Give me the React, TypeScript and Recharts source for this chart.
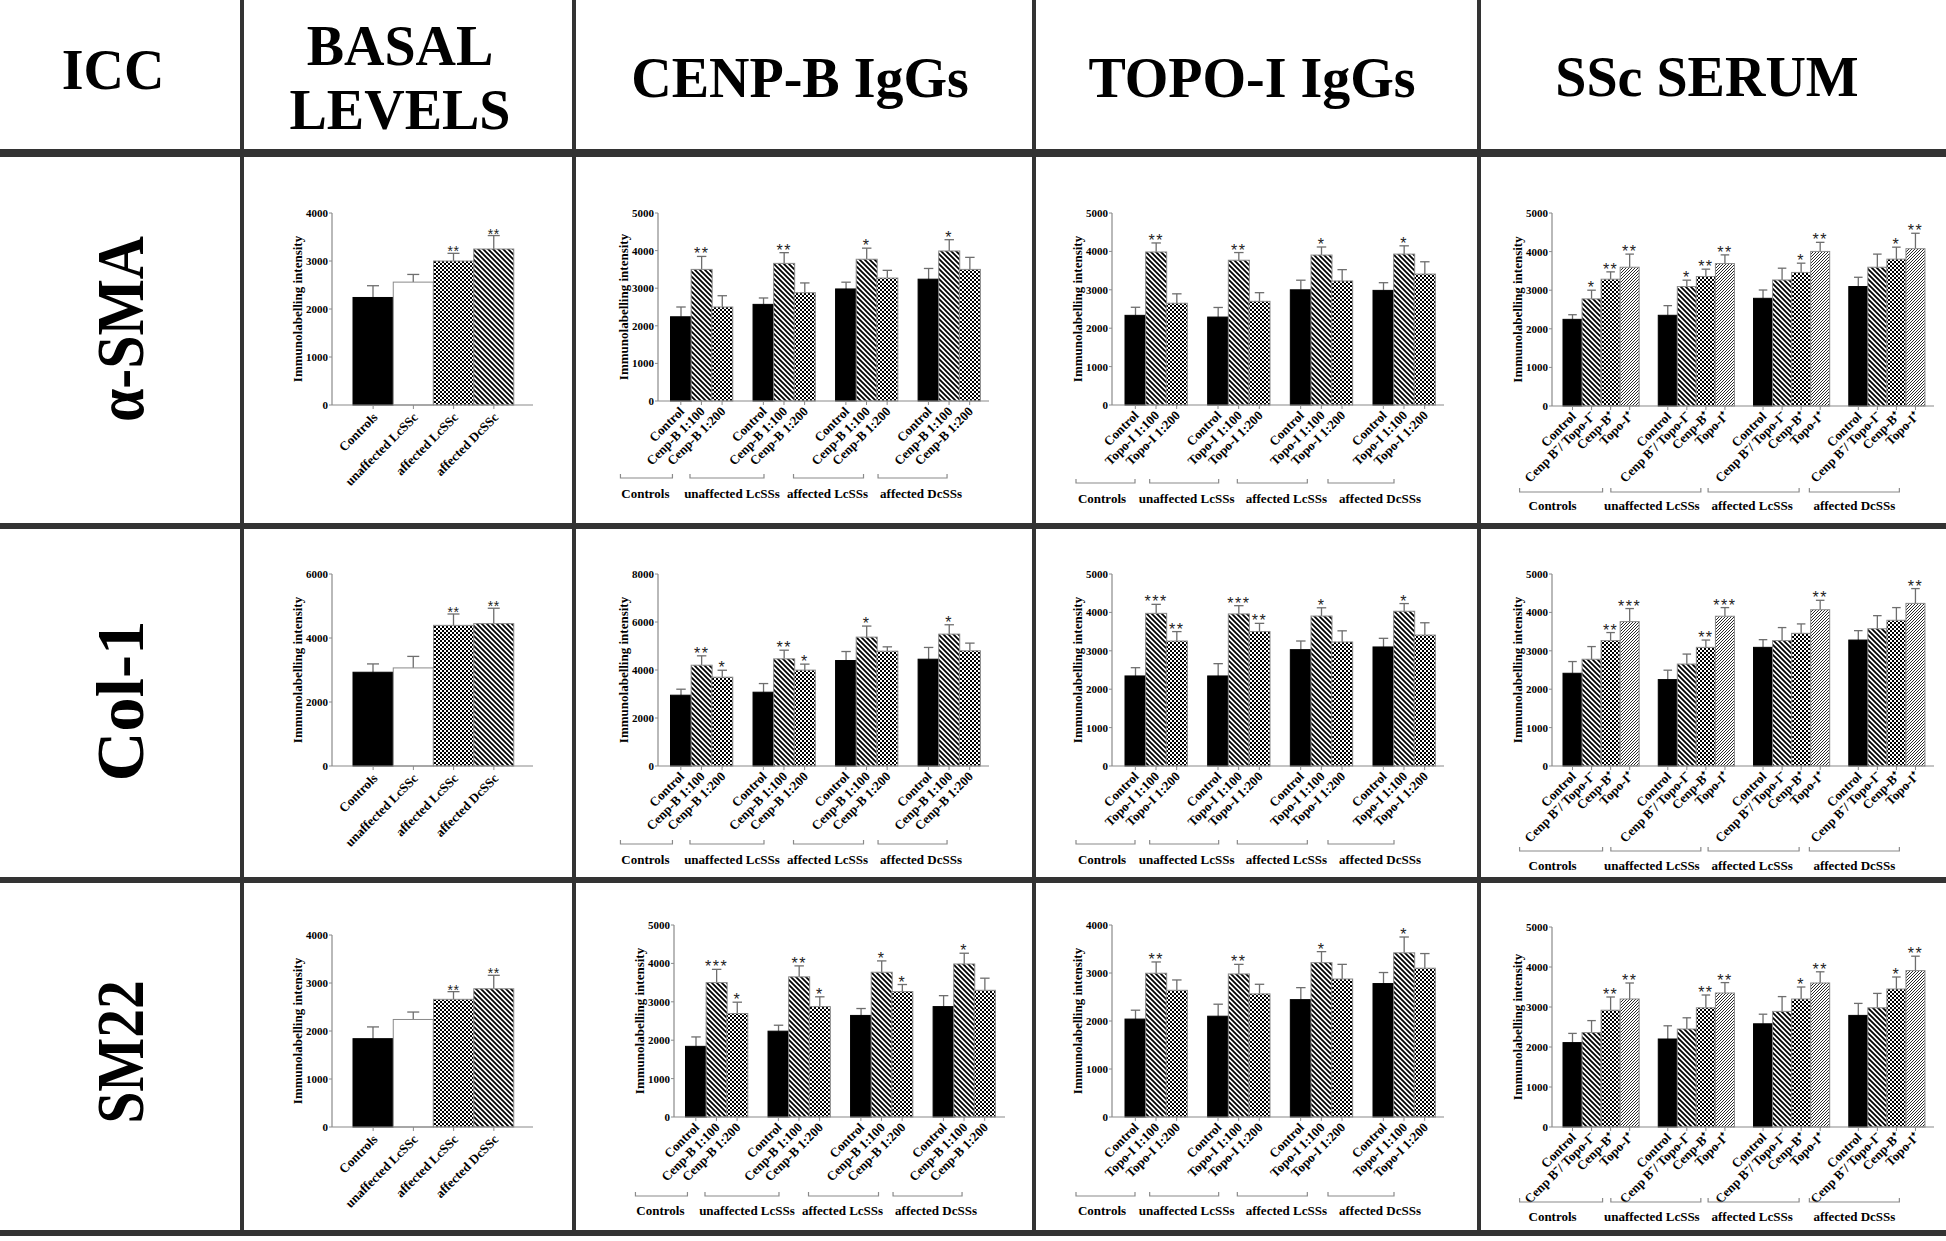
import React from 'react';
import { BarChart, Bar, XAxis, YAxis } from 'recharts';

const SERIF = "'Liberation Serif', 'Times New Roman', Times, serif";
const SANS = "'Liberation Sans', Arial, sans-serif";
const AXIS = '#8a8a8a';
const ERR = '#6e6e6e';
const FRAME = '#333333';

// ---------- text content ----------
const COLUMN_TITLES = [['ICC'], ['BASAL', 'LEVELS'], ['CENP-B IgGs'], ['TOPO-I IgGs'], ['SSc SERUM']];
const ROW_TITLES = ['α-SMA', 'Col-1', 'SM22'];
const GROUPS = ['Controls', 'unaffected LcSSs', 'affected LcSSs', 'affected DcSSs'];
const BASAL_LABELS = ['Controls', 'unaffected LcSSc', 'affected LcSSc', 'affected DcSSc'];
const CENP_LABELS = ['Control', 'Cenp-B 1:100', 'Cenp-B 1:200'];
const TOPO_LABELS = ['Control', 'Topo-I 1:100', 'Topo-I 1:200'];
const SERUM_LABELS = ['Control', 'Cenp B⁻/ Topo-I⁻', 'Cenp-B⁺', 'Topo-I⁺'];
const Y_LABEL = 'Immunolabelling intensity';

const TICKS_4000 = [0, 1000, 2000, 3000, 4000];
const TICKS_5000 = [0, 1000, 2000, 3000, 4000, 5000];
const TICKS_6000 = [0, 2000, 4000, 6000];
const TICKS_8000 = [0, 2000, 4000, 6000, 8000];

// ---------- values: α-SMA ----------
const SMA_BASAL_MEAN = [2240, 2560, 3000, 3250];
const SMA_BASAL_ERR = [245, 160, 160, 280];
const SMA_BASAL_SIG = ['', '', '**', '**'];

const SMA_CENP_MEAN = [2240, 3500, 2500, 2570, 3660, 2880, 2980, 3770, 3270, 3240, 3990, 3500];
const SMA_CENP_ERR = [260, 345, 300, 170, 285, 260, 180, 295, 205, 285, 300, 320];
const SMA_CENP_SIG = ['', '**', '', '', '**', '', '', '*', '', '', '*', ''];

const SMA_TOPO_MEAN = [2335, 3985, 2650, 2290, 3770, 2700, 3000, 3905, 3230, 2985, 3930, 3410];
const SMA_TOPO_ERR = [210, 235, 245, 250, 200, 225, 250, 210, 295, 200, 215, 320];
const SMA_TOPO_SIG = ['', '**', '', '', '**', '', '', '*', '', '', '*', ''];

const SMA_SERUM_MEAN = [2245, 2775, 3285, 3595, 2350, 3095, 3355, 3690, 2790, 3265, 3460, 4005, 3095, 3595, 3805, 4075];
const SMA_SERUM_ERR = [120, 225, 190, 340, 250, 165, 190, 225, 215, 305, 240, 235, 240, 340, 310, 400];
const SMA_SERUM_SIG = ['', '*', '**', '**', '', '*', '**', '**', '', '', '*', '**', '', '', '*', '**'];

// ---------- values: Col-1 ----------
const COL_BASAL_MEAN = [2930, 3065, 4395, 4450];
const COL_BASAL_ERR = [260, 360, 355, 480];
const COL_BASAL_SIG = ['', '', '**', '**'];

const COL_CENP_MEAN = [2950, 4200, 3700, 3075, 4465, 3995, 4395, 5370, 4785, 4450, 5495, 4800];
const COL_CENP_ERR = [250, 390, 290, 360, 360, 250, 375, 460, 180, 490, 390, 320];
const COL_CENP_SIG = ['', '**', '*', '', '**', '*', '', '*', '', '', '*', ''];

const COL_TOPO_MEAN = [2345, 3975, 3255, 2345, 3960, 3500, 3030, 3905, 3230, 3100, 4030, 3410];
const COL_TOPO_ERR = [215, 235, 245, 320, 215, 215, 225, 215, 290, 225, 200, 320];
const COL_TOPO_SIG = ['', '***', '**', '', '***', '**', '', '*', '', '', '*', ''];

const COL_SERUM_MEAN = [2415, 2780, 3265, 3760, 2250, 2655, 3090, 3900, 3090, 3265, 3455, 4070, 3280, 3575, 3795, 4235];
const COL_SERUM_ERR = [305, 330, 210, 340, 245, 260, 190, 225, 200, 340, 245, 245, 245, 340, 330, 385];
const COL_SERUM_SIG = ['', '', '**', '***', '', '', '**', '***', '', '', '', '**', '', '', '', '**'];

// ---------- values: SM22 ----------
const SM22_BASAL_MEAN = [1840, 2240, 2660, 2880];
const SM22_BASAL_ERR = [245, 155, 160, 280];
const SM22_BASAL_SIG = ['', '', '**', '**'];

const SM22_CENP_MEAN = [1840, 3500, 2695, 2235, 3650, 2875, 2645, 3770, 3265, 2875, 3985, 3300];
const SM22_CENP_ERR = [245, 345, 295, 155, 285, 255, 180, 295, 185, 285, 280, 315];
const SM22_CENP_SIG = ['', '***', '*', '', '**', '*', '', '*', '*', '', '*', ''];

const SM22_TOPO_MEAN = [2040, 2995, 2640, 2100, 2980, 2565, 2445, 3215, 2875, 2780, 3420, 3100];
const SM22_TOPO_ERR = [185, 235, 215, 250, 200, 200, 250, 230, 305, 230, 330, 305];
const SM22_TOPO_SIG = ['', '**', '', '', '**', '', '', '*', '', '', '*', ''];

const SM22_SERUM_MEAN = [2110, 2360, 2920, 3200, 2200, 2450, 2980, 3350, 2580, 2890, 3200, 3600, 2790, 2980, 3450, 3910];
const SM22_SERUM_ERR = [230, 300, 330, 400, 330, 280, 320, 260, 240, 370, 300, 280, 300, 360, 300, 360];
const SM22_SERUM_SIG = ['', '', '**', '**', '', '', '**', '**', '', '', '*', '**', '', '', '*', '**'];

// ---------- styling per chart kind ----------
const KINDS: any = {
  basal: { labels: BASAL_LABELS, fills: ['solid', 'white', 'checker', 'stripe'], grouped: false },
  cenp: {
    labels: CENP_LABELS, fills: ['solid', 'stripe', 'checker'], grouped: true,
    bracket: { left: [-81, -94, -73, -71], right: [-29, -20, -3, -2], text: [-56, -52, -39, -28] },
  },
  topo: {
    labels: TOPO_LABELS, fills: ['solid', 'stripe', 'checker'], grouped: true,
    bracket: { left: [-80, -89, -84, -76], right: [-21, -20, -14, -10], text: [-54, -52, -35, -24] },
  },
  serum: {
    labels: SERUM_LABELS, fills: ['solid', 'stripe', 'checker', 'hatch'], grouped: true,
    bracket: { left: [-72, -76, -74, -68], right: [11, 14, 17, 22], text: [-39, -35, -30, -23] },
  },
};

const CHARTS: any[] = [
  { kind: 'basal', mean: SMA_BASAL_MEAN, err: SMA_BASAL_ERR, sig: SMA_BASAL_SIG, max: 4000, ticks: TICKS_4000,
    box: { axisX: 332, top: 213, bottom: 405, right: 533, padL: 21, padR: 19 } },
  { kind: 'cenp', mean: SMA_CENP_MEAN, err: SMA_CENP_ERR, sig: SMA_CENP_SIG, max: 5000, ticks: TICKS_5000,
    box: { axisX: 658, top: 213, bottom: 401, right: 989, padL: 12.5, padR: 9, bracketDy: 77, labelDy: 97 } },
  { kind: 'topo', mean: SMA_TOPO_MEAN, err: SMA_TOPO_ERR, sig: SMA_TOPO_SIG, max: 5000, ticks: TICKS_5000,
    box: { axisX: 1112, top: 213, bottom: 405, right: 1444, padL: 13, padR: 9, bracketDy: 78, labelDy: 98 } },
  { kind: 'serum', mean: SMA_SERUM_MEAN, err: SMA_SERUM_ERR, sig: SMA_SERUM_SIG, max: 5000, ticks: TICKS_5000,
    box: { axisX: 1552, top: 213, bottom: 406, right: 1934, padL: 11, padR: 9, bracketDy: 86, labelDy: 104 } },

  { kind: 'basal', mean: COL_BASAL_MEAN, err: COL_BASAL_ERR, sig: COL_BASAL_SIG, max: 6000, ticks: TICKS_6000,
    box: { axisX: 332, top: 574, bottom: 766, right: 533, padL: 21, padR: 19 } },
  { kind: 'cenp', mean: COL_CENP_MEAN, err: COL_CENP_ERR, sig: COL_CENP_SIG, max: 8000, ticks: TICKS_8000,
    box: { axisX: 658, top: 574, bottom: 766, right: 989, padL: 12.5, padR: 9, bracketDy: 78, labelDy: 98 } },
  { kind: 'topo', mean: COL_TOPO_MEAN, err: COL_TOPO_ERR, sig: COL_TOPO_SIG, max: 5000, ticks: TICKS_5000,
    box: { axisX: 1112, top: 574, bottom: 766, right: 1444, padL: 13, padR: 9, bracketDy: 78, labelDy: 98 } },
  { kind: 'serum', mean: COL_SERUM_MEAN, err: COL_SERUM_ERR, sig: COL_SERUM_SIG, max: 5000, ticks: TICKS_5000,
    box: { axisX: 1552, top: 574, bottom: 766, right: 1934, padL: 11, padR: 9, bracketDy: 85, labelDy: 104 } },

  { kind: 'basal', mean: SM22_BASAL_MEAN, err: SM22_BASAL_ERR, sig: SM22_BASAL_SIG, max: 4000, ticks: TICKS_4000,
    box: { axisX: 332, top: 935, bottom: 1127, right: 533, padL: 21, padR: 19 } },
  { kind: 'cenp', mean: SM22_CENP_MEAN, err: SM22_CENP_ERR, sig: SM22_CENP_SIG, max: 5000, ticks: TICKS_5000,
    box: { axisX: 674, top: 925, bottom: 1117, right: 1005, padL: 11.5, padR: 10, bracketDy: 79, labelDy: 98 } },
  { kind: 'topo', mean: SM22_TOPO_MEAN, err: SM22_TOPO_ERR, sig: SM22_TOPO_SIG, max: 4000, ticks: TICKS_4000,
    box: { axisX: 1112, top: 925, bottom: 1117, right: 1444, padL: 13, padR: 9, bracketDy: 79, labelDy: 98 } },
  { kind: 'serum', mean: SM22_SERUM_MEAN, err: SM22_SERUM_ERR, sig: SM22_SERUM_SIG, max: 5000, ticks: TICKS_5000,
    box: { axisX: 1552, top: 927, bottom: 1127, right: 1934, padL: 11, padR: 9, bracketDy: 75, labelDy: 94 } },
];

function buildRows(kind: any, mean: number[], err: number[], sig: string[]) {
  const rows: any[] = [];
  if (!kind.grouped) {
    kind.labels.forEach((l: string, i: number) => {
      rows.push({ key: `b${i}`, label: l, mean: mean[i], err: err[i], sig: sig[i], fill: kind.fills[i] });
    });
    return rows;
  }
  const n = kind.labels.length;
  GROUPS.forEach((g, gi) => {
    if (gi > 0) rows.push({ key: `gap${gi}`, label: '', mean: null, err: 0, sig: '', fill: 'none' });
    kind.labels.forEach((l: string, li: number) => {
      const i = gi * n + li;
      rows.push({
        key: `g${gi}-${li}`, label: l, mean: mean[i], err: err[i], sig: sig[i], fill: kind.fills[li],
        group: li === 1 ? gi : null,
      });
    });
  });
  return rows;
}

function fillFor(f: string) {
  if (f === 'solid') return '#000';
  if (f === 'white') return '#fff';
  return `url(#pat-${f})`;
}

function makeShape(basal: boolean) {
  return (props: any) => {
    const { x, y, width, height, payload } = props;
    if (!payload || payload.mean == null || !height) return null;
    const unit = height / payload.mean;
    const top = y - payload.err * unit;
    const cx = x + width / 2;
    const cap = Math.min(12, width * 0.45);
    const solid = payload.fill === 'solid';
    return (
      <g>
        <line x1={cx} x2={cx} y1={y} y2={top} stroke={ERR} strokeWidth={1.3} />
        <line x1={cx - cap / 2} x2={cx + cap / 2} y1={top} y2={top} stroke={ERR} strokeWidth={1.3} />
        <rect x={x} y={y} width={width} height={height} fill={fillFor(payload.fill)}
          stroke={solid ? '#000' : AXIS} strokeWidth={1} />
        {payload.sig ? (
          <text x={cx} y={top + 3} textAnchor="middle" fontFamily={SANS} fontSize={basal ? 14 : 16}
            letterSpacing={basal ? 0.5 : 1.5} fill="#222">{payload.sig}</text>
        ) : null}
      </g>
    );
  };
}

function makeTick(rows: any[], kind: any, box: any) {
  const basal = !kind.grouped;
  return (props: any) => {
    const { x, y, index } = props;
    const row = rows[index];
    if (!row || row.mean == null) return <g />;
    const px = x + (basal ? 2 : 1);
    const py = y + (basal ? 10 : 8);
    const b = kind.bracket;
    const gi = row.group;
    return (
      <g>
        <line x1={x} x2={x} y1={y} y2={y + 4} stroke={AXIS} strokeWidth={1} />
        <text transform={`translate(${px},${py}) rotate(-45)`} textAnchor="end" dy="0.35em"
          fontFamily={SERIF} fontWeight="bold" fontSize={13} fill="#000">{row.label}</text>
        {kind.grouped && gi != null ? (
          <g>
            <path d={`M${x + b.left[gi]},${y + box.bracketDy - 4} V${y + box.bracketDy} H${x + b.right[gi]} V${y + box.bracketDy - 4}`}
              fill="none" stroke={AXIS} strokeWidth={1.2} />
            <text x={x + b.text[gi]} y={y + box.labelDy} textAnchor="middle" fontFamily={SERIF}
              fontWeight="bold" fontSize={13} fill="#000">{GROUPS[gi]}</text>
          </g>
        ) : null}
      </g>
    );
  };
}

function Chart({ cfg }: any) {
  const kind = KINDS[cfg.kind];
  const rows = buildRows(kind, cfg.mean, cfg.err, cfg.sig);
  const box = cfg.box;
  const MT = 20, YW = 70, MR = 6, XH = 112;
  const width = YW + (box.right - box.axisX) + MR;
  const height = MT + (box.bottom - box.top) + XH;
  return (
    <div style={{ position: 'absolute', left: box.axisX - YW, top: box.top - MT }}>
      <BarChart width={width} height={height} data={rows}
        margin={{ top: MT, right: MR, bottom: 0, left: 0 }} barCategoryGap={0} barGap={0}>
        <XAxis dataKey="key" type="category" interval={0} tickLine={false} tickSize={0} tickMargin={0}
          height={XH} padding={{ left: box.padL, right: box.padR }}
          axisLine={{ stroke: AXIS, strokeWidth: 1.2 }} tick={makeTick(rows, kind, box)} />
        <YAxis type="number" domain={[0, cfg.max]} ticks={cfg.ticks} interval={0} width={YW}
          tickSize={3} tickMargin={1} axisLine={{ stroke: AXIS, strokeWidth: 1.2 }}
          tickLine={{ stroke: AXIS }}
          tick={{ fill: '#000', fontSize: 11, fontWeight: 'bold', fontFamily: SERIF }}
          label={{ value: Y_LABEL, angle: -90, position: 'center',
            style: { fontFamily: SERIF, fontWeight: 'bold', fontSize: 13, fill: '#000', textAnchor: 'middle' } }} />
        <Bar dataKey="mean" isAnimationActive={false} shape={makeShape(!kind.grouped)} />
      </BarChart>
    </div>
  );
}

const COL_LINES = [242, 574, 1034, 1479];
const ROW_LINES = [153, 526, 880, 1233];
const HEADER_POS = [
  { x: 113, y: [89] },
  { x: 400, y: [65, 129] },
  { x: 800, y: [97] },
  { x: 1252, y: [97] },
  { x: 1707, y: [96] },
];
const ROW_TITLE_Y = [329, 701, 1052];
const ROW_TITLE_LEN = [186, 161, 143];

function Frame() {
  return (
    <svg width={1946} height={1241} style={{ position: 'absolute', left: 0, top: 0 }}>
      <defs>
        <pattern id="pat-checker" width="4" height="4" patternUnits="userSpaceOnUse">
          <rect width="4" height="4" fill="#fff" />
          <rect width="2" height="2" fill="#000" />
          <rect x="2" y="2" width="2" height="2" fill="#000" />
        </pattern>
        <pattern id="pat-stripe" width="5" height="5" patternUnits="userSpaceOnUse">
          <rect width="5" height="5" fill="#fff" />
          <path d="M0,0 L5,5 M-1,4 L1,6 M4,-1 L6,1" stroke="#000" strokeWidth="1.8" />
        </pattern>
        <pattern id="pat-hatch" width="3" height="3" patternUnits="userSpaceOnUse">
          <rect width="3" height="3" fill="#fff" />
          <path d="M0,3 L3,0 M-1,1 L1,-1 M2,4 L4,2" stroke="#111" strokeWidth="0.9" />
        </pattern>
      </defs>
      {COL_LINES.map((x) => (
        <rect key={`v${x}`} x={x - 2} y={0} width={4} height={1236} fill={FRAME} />
      ))}
      {ROW_LINES.map((y, i) => (
        <rect key={`h${y}`} x={0} y={y - (i === 0 ? 4 : 3)} width={1946} height={i === 0 ? 8 : 6} fill={FRAME} />
      ))}
      {COLUMN_TITLES.map((lines, i) => lines.map((t, j) => (
        <text key={`t${i}-${j}`} x={HEADER_POS[i].x} y={HEADER_POS[i].y[j]} textAnchor="middle"
          fontFamily={SERIF} fontWeight="bold" fontSize={56} fill="#000">{t}</text>
      )))}
      {ROW_TITLES.map((t, i) => (
        <text key={`r${i}`} transform={`translate(143,${ROW_TITLE_Y[i]}) rotate(-90)`} textAnchor="middle"
          fontFamily={SERIF} fontWeight="bold" fontSize={68} fill="#000"
          textLength={ROW_TITLE_LEN[i]} lengthAdjust="spacingAndGlyphs">{t}</text>
      ))}
    </svg>
  );
}

export default function App() {
  return (
    <div style={{ position: 'absolute', left: 0, top: 0, width: 1946, height: 1241, background: '#fff', overflow: 'hidden' }}>
      <Frame />
      {CHARTS.map((c, i) => <Chart key={i} cfg={c} />)}
    </div>
  );
}
